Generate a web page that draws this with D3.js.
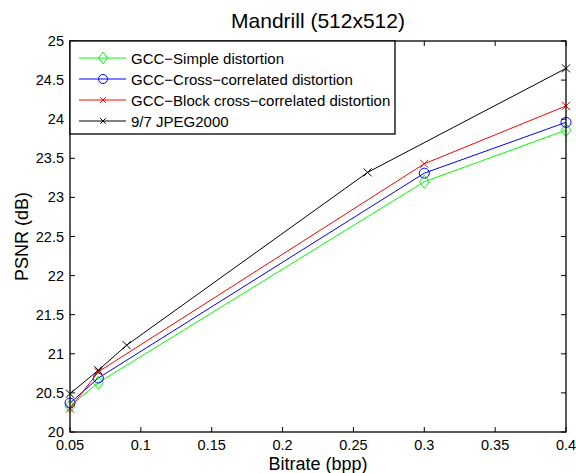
<!DOCTYPE html>
<html>
<head>
<meta charset="utf-8">
<script src="https://cdn.jsdelivr.net/npm/d3@7"></script>
<style>
  body { margin: 0; background: #fff; }
  text { font-family: "Liberation Sans", Arial, sans-serif; }
</style>
</head>
<body>
<div id="chart"></div>
<script>
const Width = 576;
const Height = 473;
const Margin = {top: 41, right: 10, bottom: 41, left: 70};

// data
const simpleX = [0.05, 0.07, 0.3, 0.4];
const simpleY = [20.33, 20.63, 23.20, 23.86];
const crossX = [0.05, 0.07, 0.3, 0.4];
const crossY = [20.37, 20.69, 23.31, 23.96];
const blockX = [0.05, 0.07, 0.3, 0.4];
const blockY = [20.30, 20.77, 23.43, 24.17];
const jpegX = [0.05, 0.07, 0.09, 0.26, 0.4];
const jpegY = [20.49, 20.79, 21.11, 23.32, 24.65];

const xTicks = [0.05, 0.1, 0.15, 0.2, 0.25, 0.3, 0.35, 0.4];
const yTicks = [20, 20.5, 21, 21.5, 22, 22.5, 23, 23.5, 24, 24.5, 25];

const series = [
  {name: 'GCC\u2212Simple distortion', xs: simpleX, ys: simpleY, color: '#00ff00', marker: 'diamond'},
  {name: 'GCC\u2212Cross\u2212correlated distortion', xs: crossX, ys: crossY, color: '#0000ff', marker: 'circle'},
  {name: 'GCC\u2212Block cross\u2212correlated distortion', xs: blockX, ys: blockY, color: '#ff0000', marker: 'cross'},
  {name: '9/7 JPEG2000', xs: jpegX, ys: jpegY, color: '#000000', marker: 'cross'}
];

const svg = d3.select('#chart').append('svg')
  .attr('width', Width)
  .attr('height', Height);

const x = d3.scaleLinear().domain([0.05, 0.4]).range([Margin.left, Width - Margin.right]);
const y = d3.scaleLinear().domain([20, 25]).range([Height - Margin.bottom, Margin.top]);

// ticks on all four sides, pointing inward
const tickLen = 5;
const axisG = svg.append('g').attr('stroke', '#000').attr('stroke-width', 1);
xTicks.forEach(t => {
  axisG.append('line').attr('x1', x(t)).attr('x2', x(t)).attr('y1', y(20)).attr('y2', y(20) - tickLen);
  axisG.append('line').attr('x1', x(t)).attr('x2', x(t)).attr('y1', y(25)).attr('y2', y(25) + tickLen);
});
yTicks.forEach(t => {
  axisG.append('line').attr('x1', x(0.05)).attr('x2', x(0.05) + tickLen).attr('y1', y(t)).attr('y2', y(t));
  axisG.append('line').attr('x1', x(0.4)).attr('x2', x(0.4) - tickLen).attr('y1', y(t)).attr('y2', y(t));
});

// tick labels
svg.append('g').selectAll('text')
  .data(xTicks).enter().append('text')
  .attr('x', d => x(d))
  .attr('y', y(20) + 18)
  .attr('text-anchor', 'middle')
  .style('font-size', '14.5px')
  .text(d => d3.format('~g')(d));

svg.append('g').selectAll('text')
  .data(yTicks).enter().append('text')
  .attr('x', x(0.05) - 6)
  .attr('y', d => y(d) + 5)
  .attr('text-anchor', 'end')
  .style('font-size', '14.5px')
  .text(d => d3.format('~g')(d));

// lines
const line = d3.line().x(d => x(d[0])).y(d => y(d[1]));
const plot = svg.append('g');

function drawMarker(g, type, cx, cy, color, s) {
  if (type === 'diamond') {
    g.append('path')
      .attr('d', `M${cx},${cy - s * 1.3}L${cx + s},${cy}L${cx},${cy + s * 1.3}L${cx - s},${cy}Z`)
      .attr('fill', 'none').attr('stroke', color).attr('stroke-width', 1);
  } else if (type === 'circle') {
    g.append('circle').attr('cx', cx).attr('cy', cy).attr('r', s)
      .attr('fill', 'none').attr('stroke', color).attr('stroke-width', 1);
  } else {
    const r = s * 0.8;
    g.append('path')
      .attr('d', `M${cx - r},${cy - r}L${cx + r},${cy + r}M${cx - r},${cy + r}L${cx + r},${cy - r}`)
      .attr('fill', 'none').attr('stroke', color).attr('stroke-width', 1);
  }
}

series.forEach(s => {
  const pts = s.xs.map((v, i) => [v, s.ys[i]]);
  plot.append('path')
    .datum(pts)
    .attr('d', line)
    .attr('fill', 'none')
    .attr('stroke', s.color)
    .attr('stroke-width', 1);
  pts.forEach(p => drawMarker(plot, s.marker, x(p[0]), y(p[1]), s.color, 5));
});

// box
svg.append('rect')
  .attr('x', x(0.05)).attr('y', y(25))
  .attr('width', x(0.4) - x(0.05)).attr('height', y(20) - y(25))
  .attr('fill', 'none').attr('stroke', '#000').attr('stroke-width', 1.3);

// title and axis labels
svg.append('text')
  .attr('x', (x(0.05) + x(0.4)) / 2).attr('y', 28)
  .attr('text-anchor', 'middle')
  .style('font-size', '21px')
  .text('Mandrill (512x512)');

svg.append('text')
  .attr('x', (x(0.05) + x(0.4)) / 2).attr('y', 470)
  .attr('text-anchor', 'middle')
  .style('font-size', '18px')
  .text('Bitrate (bpp)');

svg.append('text')
  .attr('transform', `translate(28,${(y(20) + y(25)) / 2}) rotate(-90)`)
  .attr('text-anchor', 'middle')
  .style('font-size', '18px')
  .text('PSNR (dB)');

// legend
const legend = svg.append('g').attr('transform', `translate(${x(0.05)},${y(25)})`);
legend.append('rect')
  .attr('width', 325).attr('height', 93)
  .attr('fill', '#fff').attr('stroke', '#000').attr('stroke-width', 1.3);

const item = legend.selectAll('.legend-item')
  .data(series).enter().append('g')
  .attr('class', 'legend-item')
  .attr('transform', (d, i) => `translate(0,${17 + i * 21})`);

item.append('line')
  .attr('x1', 9).attr('x2', 56).attr('y1', 0).attr('y2', 0)
  .attr('stroke', d => d.color).attr('stroke-width', 1);
item.each(function (d) {
  drawMarker(d3.select(this), d.marker, 33, 0, d.color, d.marker === 'cross' ? 3.5 : 4.5);
});
item.append('text')
  .attr('x', 61).attr('y', 5.5)
  .style('font-size', '15px')
  .text(d => d.name);
</script>
</body>
</html>
